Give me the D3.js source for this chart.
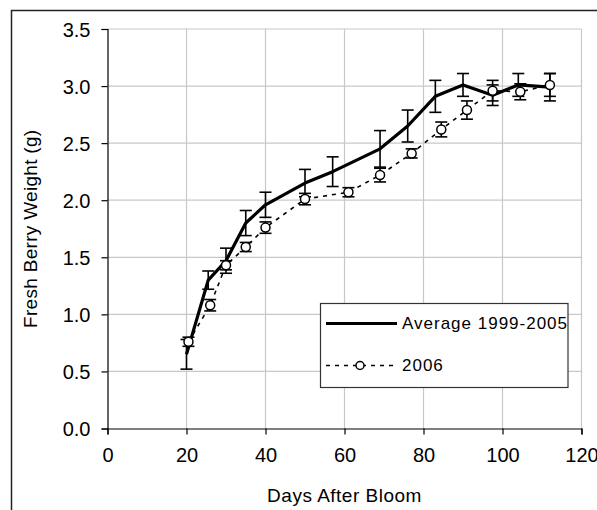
<!DOCTYPE html>
<html>
<head>
<meta charset="utf-8">
<script src="https://cdn.jsdelivr.net/npm/d3@7"></script>
<style>
  body { margin: 0; background: #fff; }
  text { font-family: "Liberation Sans", Arial, sans-serif; fill: #000; }
</style>
</head>
<body>
<div id="chart"></div>
<script>
// --- Data ---
var avgDays = [20, 25.5, 30, 35, 40, 50, 57, 69, 76, 83, 90, 97.5, 104, 112];
var avgWeight = [0.65, 1.30, 1.47, 1.80, 1.96, 2.15, 2.25, 2.45, 2.65, 2.91, 3.01, 2.92, 3.01, 2.99];
var avgErr = [0.13, 0.08, 0.11, 0.11, 0.11, 0.12, 0.13, 0.16, 0.14, 0.14, 0.10, 0.09, 0.10, 0.12];

var days2006 = [20.5, 26, 30, 35, 40, 50, 61, 69, 77, 84.5, 91, 97.5, 104.5, 112];
var weight2006 = [0.76, 1.08, 1.43, 1.59, 1.76, 2.01, 2.07, 2.22, 2.41, 2.62, 2.79, 2.96, 2.95, 3.01];
var err2006 = [0.04, 0.05, 0.04, 0.04, 0.05, 0.05, 0.04, 0.06, 0.04, 0.065, 0.08, 0.09, 0.07, 0.10];

var xTicks = [0, 20, 40, 60, 80, 100, 120];
var yTicks = [0, 0.5, 1.0, 1.5, 2.0, 2.5, 3.0, 3.5];
var seriesNames = ["Average 1999-2005", "2006"];

var avgData = avgDays.map((d, i) => ({x: d, y: avgWeight[i], e: avgErr[i]}));
var data2006 = days2006.map((d, i) => ({x: d, y: weight2006[i], e: err2006[i]}));

var pxX = 597, pxY = 510;
var svg = d3.select("#chart").append("svg")
  .attr("width", pxX)
  .attr("height", pxY);

// outer chart border (right/bottom edges fall outside the picture)
svg.append("rect")
  .attr("x", 11.5).attr("y", 10.5)
  .attr("width", 700).attr("height", 600)
  .attr("fill", "none")
  .attr("stroke", "#222")
  .attr("stroke-width", 1.5);

// --- Scales ---
var scX = d3.scaleLinear().domain([0, 120]).range([107.5, 581.5]);
var scY = d3.scaleLinear().domain([0, 3.5]).range([428.5, 29]);

// --- Grid ---
var grid = svg.append("g").attr("stroke", "#c8c8c8").attr("stroke-width", 1.2);
grid.selectAll("line.v")
  .data(xTicks.slice(1))
  .enter().append("line")
  .attr("x1", d => scX(d)).attr("x2", d => scX(d))
  .attr("y1", scY(0)).attr("y2", scY(3.5));
grid.selectAll("line.h")
  .data(yTicks.slice(1))
  .enter().append("line")
  .attr("x1", scX(0)).attr("x2", scX(120))
  .attr("y1", d => scY(d)).attr("y2", d => scY(d));

// --- Axes ---
var axX = svg.append("g")
  .attr("transform", `translate(0, ${scY(0)})`)
  .call(d3.axisBottom(scX).tickValues(xTicks).tickSize(6).tickPadding(13).tickFormat(d3.format("d")));
var axY = svg.append("g")
  .attr("transform", `translate(${scX(0)}, 0)`)
  .call(d3.axisLeft(scY).tickValues(yTicks).tickSize(6).tickPadding(11).tickFormat(d3.format(".1f")));
[axX, axY].forEach(function(ax) {
  ax.select(".domain").attr("stroke", "#000").attr("stroke-width", 1.2);
  ax.selectAll(".tick line").attr("stroke", "#000").attr("stroke-width", 1.2);
  ax.selectAll(".tick text")
    .attr("font-size", 20)
    .attr("font-family", "Liberation Sans, Arial, sans-serif")
    .attr("fill", "#000");
});
axY.selectAll(".tick text").attr("dy", "0.36em");

svg.append("text")
  .attr("x", (scX(0) + scX(120)) / 2).attr("y", 502)
  .attr("text-anchor", "middle")
  .attr("font-size", 19)
  .attr("letter-spacing", 0.5)
  .text("Days After Bloom");
svg.append("text")
  .attr("transform", `translate(37, ${(scY(0) + scY(3.5)) / 2}) rotate(-90)`)
  .attr("text-anchor", "middle")
  .attr("font-size", 19)
  .attr("letter-spacing", 0.3)
  .text("Fresh Berry Weight (g)");

// --- Error bars ---
var drawErr = function(g, rows) {
  var cap = 6;
  rows.forEach(function(d) {
    var x = scX(d.x), y0 = scY(d.y - d.e), y1 = scY(d.y + d.e);
    g.append("line").attr("x1", x).attr("x2", x).attr("y1", y0).attr("y2", y1);
    g.append("line").attr("x1", x - cap).attr("x2", x + cap).attr("y1", y0).attr("y2", y0);
    g.append("line").attr("x1", x - cap).attr("x2", x + cap).attr("y1", y1).attr("y2", y1);
  });
};

var lnMkr = d3.line().x(d => scX(d.x)).y(d => scY(d.y));

var gAvg = svg.append("g");
gAvg.append("g").attr("stroke", "#000").attr("stroke-width", 1.6).call(drawErr, avgData);
gAvg.append("path")
  .attr("fill", "none")
  .attr("stroke", "#000")
  .attr("stroke-width", 3.2)
  .attr("stroke-linejoin", "round")
  .attr("d", lnMkr(avgData));

var g06 = svg.append("g");
g06.append("g").attr("stroke", "#000").attr("stroke-width", 1.6).call(drawErr, data2006);
g06.append("path")
  .attr("fill", "none")
  .attr("stroke", "#000")
  .attr("stroke-width", 1.6)
  .attr("stroke-dasharray", "4,5")
  .attr("d", lnMkr(data2006));
g06.selectAll("circle")
  .data(data2006)
  .enter().append("circle")
  .attr("cx", d => scX(d.x))
  .attr("cy", d => scY(d.y))
  .attr("r", 4.5)
  .attr("fill", "#fff")
  .attr("stroke", "#000")
  .attr("stroke-width", 1.5);

// --- Legend ---
var lg = svg.append("g");
lg.append("rect")
  .attr("x", 320.5).attr("y", 303.5)
  .attr("width", 247.5).attr("height", 84)
  .attr("fill", "#fff")
  .attr("stroke", "#333")
  .attr("stroke-width", 1.2);
lg.append("line")
  .attr("x1", 326).attr("x2", 397).attr("y1", 323.5).attr("y2", 323.5)
  .attr("stroke", "#000").attr("stroke-width", 3.2);
lg.append("line")
  .attr("x1", 326).attr("x2", 395).attr("y1", 365.5).attr("y2", 365.5)
  .attr("stroke", "#000").attr("stroke-width", 1.6).attr("stroke-dasharray", "4,5");
lg.append("circle")
  .attr("cx", 360).attr("cy", 365.5).attr("r", 4)
  .attr("fill", "#fff").attr("stroke", "#000").attr("stroke-width", 1.5);
lg.selectAll("text.lab")
  .data(seriesNames)
  .enter().append("text")
  .attr("x", 402)
  .attr("y", (d, i) => 329 + i * 42)
  .attr("font-size", 17)
  .attr("letter-spacing", 1)
  .text(d => d);
</script>
</body>
</html>
